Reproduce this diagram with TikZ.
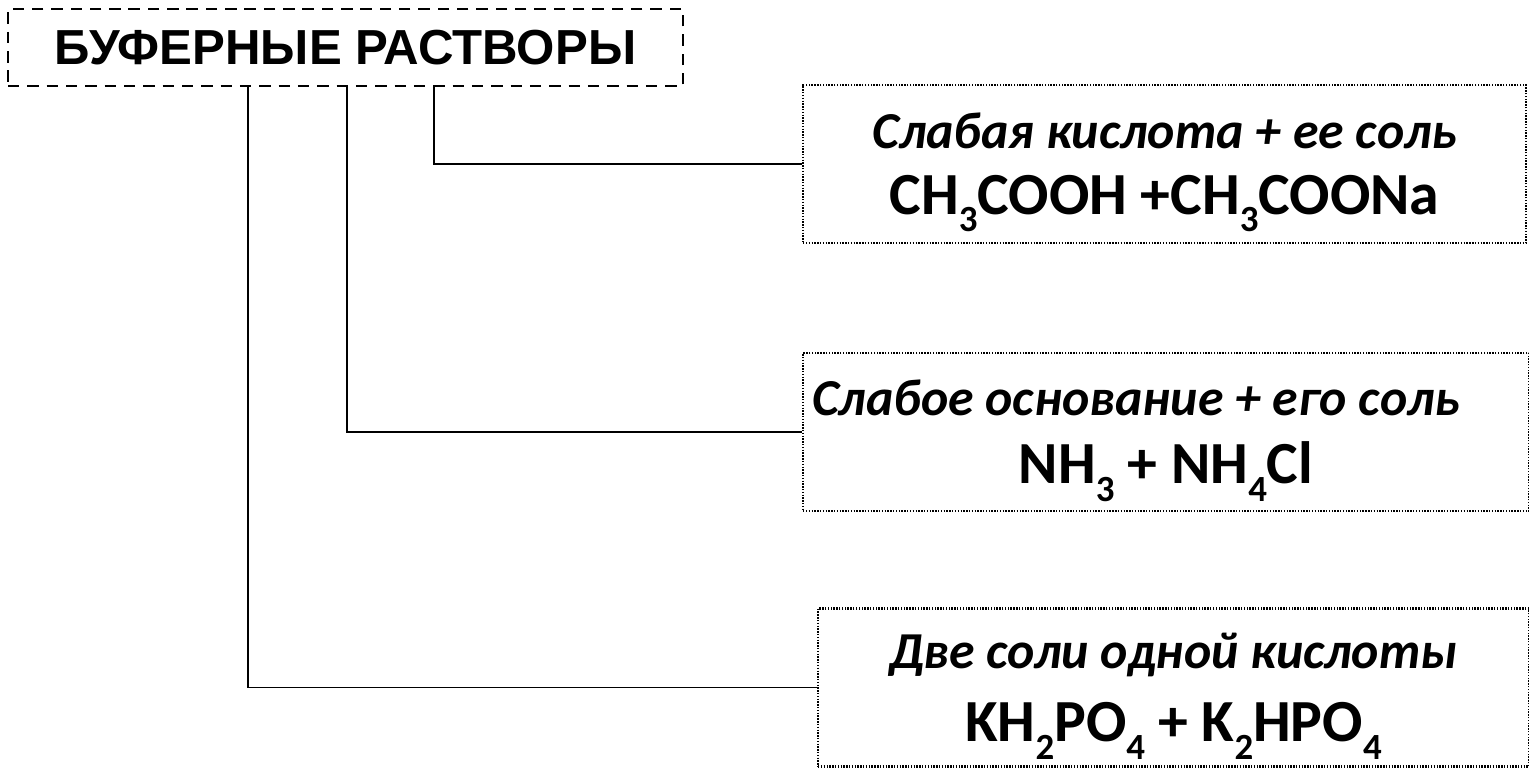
\documentclass[tikz,border=0pt]{standalone}
\usepackage{fontspec}
\setmainfont{Carlito}
\newfontfamily\headfont{Liberation Sans}
\newcommand\chsub[1]{\smash{\raisebox{-0.6ex}{\fontsize{21}{21}\selectfont #1}}}
\newcommand\descfont{\fontsize{29.5}{34}\selectfont\bfseries\itshape}
\newcommand\formfont{\fontsize{34}{40}\selectfont\bfseries}

\tikzset{
  headbox/.style={draw, line width=1.1pt, dash pattern=on 6.5pt off 4.5pt,
    minimum width=13.5cm, minimum height=1.54cm, inner sep=0pt,
    font=\headfont\fontsize{28}{32}\selectfont\bfseries},
  saltbox/.style={draw, line width=1.5pt, dash pattern=on 0.8pt off 0.8pt,
    minimum height=3.16cm, inner sep=0pt, align=center},
  link/.style={line width=1.1pt}
}

\begin{document}
\begin{tikzpicture}[x=0.02cm, y=-0.02cm]
\useasboundingbox (0,0) rectangle (1529,769);

    \node[headbox] (buf) at (345.5,47.5) {БУФЕРНЫЕ РАСТВОРЫ};

    \node[saltbox, minimum width=14.46cm] (acid) at (1164.5,164)
      {{\descfont Слабая кислота + ее соль}\\[14pt]
       {\formfont CH\chsub{3}COOH +CH\chsub{3}COONa}};
    \node[saltbox, minimum width=14.52cm] (base) at (1166,432)
      {{\descfont\hspace*{-1.2cm}Слабое основание + его соль}\\[14pt]
       {\formfont NH\chsub{3} + NH\chsub{4}Cl}};
    \node[saltbox, minimum width=14.22cm] (two) at (1173.5,687.5)
      {{\descfont Две соли одной кислоты}\\[14pt]
       {\formfont KH\chsub{2}PO\chsub{4} + K\chsub{2}HPO\chsub{4}}};

    \foreach \x/\n in {434/acid,347/base,248/two}{
    \draw[link] (buf.south -| \x,0) |- (\n.west);
}

\end{tikzpicture}
\end{document}
